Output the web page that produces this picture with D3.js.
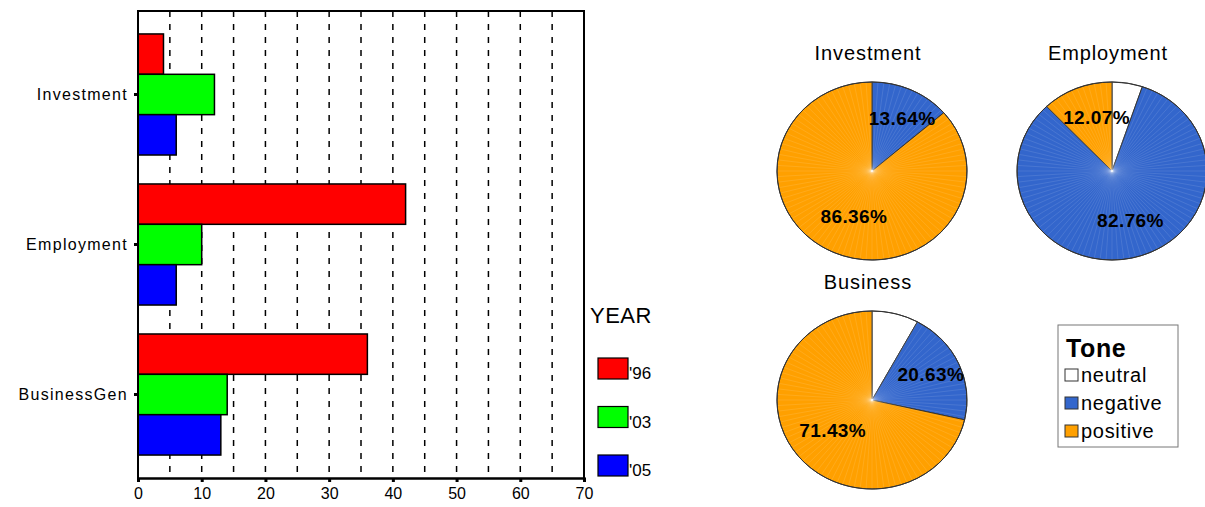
<!DOCTYPE html>
<html>
<head>
<meta charset="utf-8">
<script src="https://cdn.jsdelivr.net/npm/d3@7"></script>
<style>
  body { margin: 0; background: #fff; }
  svg { display: block; font-family: "Liberation Sans", Arial, sans-serif; }
</style>
</head>
<body>
<div id="chart"></div>
<script>
// bar chart data (article counts by year)
const categories = ["Investment", "Employment", "BusinessGen"];
const years = ["'96", "'03", "'05"];
const yearColors = ["#ff0000", "#00ff00", "#0000ff"];
const counts96 = [4, 42, 36];
const counts03 = [12, 10, 14];
const counts05 = [6, 6, 13];
const xTicks = [0, 10, 20, 30, 40, 50, 60, 70];

// pie data (tone counts: neutral, negative, positive)
const tones = ["neutral", "negative", "positive"];
const toneColors = ["#ffffff", "#3366cc", "#ffa000"];
const pieTitles = ["Investment", "Employment", "Business"];
const investmentTone = [0, 3, 19];
const employmentTone = [3, 48, 7];
const businessTone = [5, 13, 45];

const width = 1205, height = 507;
const svg = d3.select("#chart").append("svg")
  .attr("width", width).attr("height", height);

// ---- bar chart ----
const plot = { left: 138, right: 584, top: 11, bottom: 478 };
const x = d3.scaleLinear().domain([0, 70]).range([plot.left, plot.right]);
const y = d3.scaleBand().domain(categories).range([plot.top, plot.bottom])
  .paddingInner(0.193).paddingOuter(0.153);
const ySub = d3.scaleBand().domain(years).range([0, y.bandwidth()]);

// dashed grid every 5
svg.append("g").selectAll("line")
  .data(d3.range(5, 70, 5))
  .join("line")
  .attr("x1", d => x(d)).attr("x2", d => x(d))
  .attr("y1", plot.top).attr("y2", plot.bottom)
  .attr("stroke", "#000").attr("stroke-width", 1.5)
  .attr("stroke-dasharray", "6,7");

const series = [counts96, counts03, counts05];
const barRows = [];
categories.forEach((c, i) => {
  years.forEach((yr, j) => barRows.push({ cat: c, year: yr, value: series[j][i], color: yearColors[j] }));
});

svg.append("g").selectAll("rect")
  .data(barRows)
  .join("rect")
  .attr("x", x(0))
  .attr("y", d => y(d.cat) + ySub(d.year))
  .attr("width", d => x(d.value) - x(0))
  .attr("height", ySub.bandwidth())
  .attr("fill", d => d.color)
  .attr("stroke", "#000").attr("stroke-width", 1.5);

// frame
svg.append("path")
  .attr("d", `M${plot.left},${plot.bottom}V${plot.top}H${plot.right}V${plot.bottom}`)
  .attr("fill", "none").attr("stroke", "#000").attr("stroke-width", 2);

// x axis
const xAxis = svg.append("g")
  .attr("transform", `translate(0,${plot.bottom})`)
  .call(d3.axisBottom(x).tickValues(xTicks).tickSize(4).tickPadding(6));
xAxis.select(".domain").attr("stroke-width", 2.5);
xAxis.selectAll(".tick line").attr("stroke-width", 3);
xAxis.selectAll("text").attr("font-size", 16).attr("fill", "#000")
  .attr("font-family", "Liberation Sans, Arial, sans-serif");

// y axis
const yAxis = svg.append("g")
  .attr("transform", `translate(${plot.left},0)`)
  .call(d3.axisLeft(y).tickSize(4).tickPadding(6));
yAxis.select(".domain").remove();
yAxis.selectAll(".tick line").attr("stroke-width", 3);
yAxis.selectAll("text").attr("font-size", 16).attr("fill", "#000")
  .attr("letter-spacing", 1.3)
  .attr("font-family", "Liberation Sans, Arial, sans-serif");

// year legend
const yl = svg.append("g").attr("transform", "translate(590,0)");
yl.append("text").attr("x", 0).attr("y", 323)
  .attr("font-size", 22).attr("letter-spacing", 0.5).text("YEAR");
years.forEach((yr, j) => {
  const top = 358 + j * 48.5;
  yl.append("rect").attr("x", 8).attr("y", top).attr("width", 30).attr("height", 21)
    .attr("fill", yearColors[j]).attr("stroke", "#000").attr("stroke-width", 1.2);
  yl.append("text").attr("x", 39).attr("y", top + 21).attr("font-size", 17).text(yr);
});

// ---- pies ----
const pieData = [investmentTone, employmentTone, businessTone];
const pieCenters = [[872, 171], [1112, 171], [872, 400]];
const rx = 95, ry = 89;
const pie = d3.pie().sort(null).value(d => d);
const arc = d3.arc().innerRadius(0).outerRadius(rx);
const labelArc = d3.arc().innerRadius(0).outerRadius(rx * 1.22);

pieData.forEach((vals, k) => {
  const [cx, cy] = pieCenters[k];
  const total = d3.sum(vals);
  svg.append("text").attr("x", cx - 4).attr("y", cy - 111)
    .attr("text-anchor", "middle").attr("font-size", 20)
    .attr("letter-spacing", 0.9).text(pieTitles[k]);

  const g = svg.append("g")
    .attr("transform", `translate(${cx},${cy}) scale(1,${ry / rx})`);
  const arcs = pie(vals);
  g.selectAll("path.slice")
    .data(arcs)
    .join("path")
    .attr("class", "slice")
    .attr("d", arc)
    .attr("fill", (d, i) => toneColors[i])
    .attr("stroke", "#333").attr("stroke-width", 1)
    .attr("vector-effect", "non-scaling-stroke");

  // faint radial shading lines
  g.append("g").selectAll("line")
    .data(d3.range(0, 360, 3.6))
    .join("line")
    .attr("x1", 0).attr("y1", 0)
    .attr("x2", a => rx * Math.sin(a * Math.PI / 180))
    .attr("y2", a => -rx * Math.cos(a * Math.PI / 180))
    .attr("stroke", "#fff").attr("stroke-opacity", 0.18)
    .attr("stroke-width", 0.6).attr("vector-effect", "non-scaling-stroke");

  g.append("circle").attr("r", rx).attr("fill", "none")
    .attr("stroke", "#333").attr("stroke-width", 1)
    .attr("vector-effect", "non-scaling-stroke");

  arcs.forEach((a, i) => {
    const pct = vals[i] / total * 100;
    if (pct < 10) return;
    const [lx, ly] = labelArc.centroid(a);
    svg.append("text")
      .attr("x", cx + lx + 6).attr("y", cy + ly * ry / rx + 3)
      .attr("text-anchor", "middle")
      .attr("font-size", 19).attr("font-weight", "bold")
      .attr("letter-spacing", 0.4)
      .text(pct.toFixed(2) + "%");
  });
});

// tone legend
const tl = svg.append("g").attr("transform", "translate(1058,325)");
tl.append("rect").attr("width", 120).attr("height", 122)
  .attr("fill", "#fff").attr("stroke", "#777").attr("stroke-width", 1);
tl.append("text").attr("x", 8).attr("y", 32)
  .attr("font-size", 25).attr("font-weight", "bold").attr("letter-spacing", 0.6).text("Tone");
tones.forEach((t, i) => {
  const top = 44 + i * 28;
  tl.append("rect").attr("x", 7).attr("y", top).attr("width", 13).attr("height", 12)
    .attr("fill", toneColors[i]).attr("stroke", "#333").attr("stroke-width", 1);
  tl.append("text").attr("x", 23).attr("y", top + 13)
    .attr("font-size", 20).attr("letter-spacing", 0.7).text(t);
});
</script>
</body>
</html>
